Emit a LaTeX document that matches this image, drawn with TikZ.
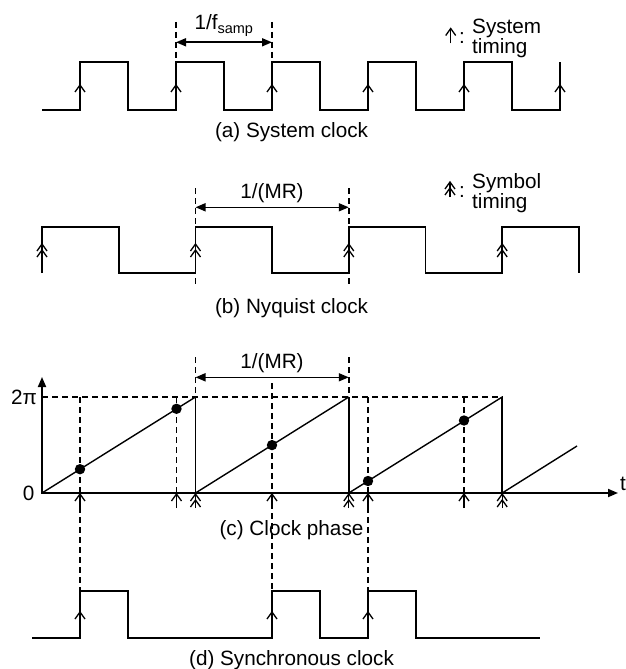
\documentclass[tikz,border=0pt]{standalone}
\usepackage{fontspec}
\setmainfont{Liberation Sans}
\usetikzlibrary{arrows.meta}
\newcommand\lblfont{\fontsize{20.7}{20.7}\selectfont}
\tikzset{
  wave/.style={line width=1.8pt, line join=miter},
  ramp/.style={line width=1.4pt},
  dsh/.style={line width=1.5pt, dash pattern=on 6pt off 4pt},
  chev/.style={line width=1.3pt, line join=miter},
  dimarrow/.style={line width=1.6pt, {Triangle[length=10pt,width=8pt]}-{Triangle[length=10pt,width=8pt]}},
  lbl/.style={font=\lblfont, inner sep=0pt},
  dotmark/.style={fill=black, draw=none},
  pics/sch/.style={code={\draw[chev] (-5,7) -- (0,0) -- (5,7);}},
  pics/dch/.style={code={\draw[chev] (-5,7) -- (0,0) -- (5,7); \draw[chev] (-5,13) -- (0,6) -- (5,13);}},
}
\begin{document}
\begin{tikzpicture}[x=1pt,y=-1pt]
\useasboundingbox (0,0) rectangle (626,669);

% ---------------- (a) System clock ----------------
\draw[wave] (42,110) -- (80,110) -- (80,62) -- (128,62) -- (128,110) -- (176,110) -- (176,62)
  -- (224,62) -- (224,110) -- (272,110) -- (272,62) -- (320,62) -- (320,110) -- (368,110)
  -- (368,62) -- (416,62) -- (416,110) -- (464,110) -- (464,62) -- (512,62) -- (512,110)
  -- (560,110) -- (560,62);
\foreach \x in {80,176,272,368,464,560} \pic at (\x,85) {sch};
\draw[dsh] (176,22) -- (176,62);
\draw[dsh] (272,22) -- (272,62);
\coordinate (a1) at (176,42.3);
\coordinate (a2) at (272,42.3);
\draw[dimarrow] (a1) -- (a2);
\node[lbl, anchor=base] (fsamp) at (224,30) {1/f\textsubscript{samp}};
% legend
\coordinate (la1) at (450.7,43.5);
\coordinate (la2) at (450.7,28.5);
\draw[chev] (la1) -- (la2);
\pic at (la2) {sch};
\node[lbl, anchor=base] (colA) at (462,43.5) {:};
\node[lbl, anchor=base west] (sysA) at (472,33.5) {System};
\node[lbl, anchor=base west] (timA) at (472,53.5) {timing};
\node[lbl, anchor=base] (capA) at (291.5,137) {(a) System clock};

% ---------------- (b) Nyquist clock ----------------
\draw[wave] (42,273) -- (42,227) -- (118.7,227) -- (118.7,273) -- (195.5,273) -- (195.5,227)
  -- (272.2,227) -- (272.2,273) -- (348.8,273) -- (348.8,227) -- (425.5,227) -- (425.5,273)
  -- (502.2,273) -- (502.2,227) -- (578.9,227) -- (578.9,273);
\foreach \x in {42,195.5,348.8,502.2} \pic at (\x,244) {dch};
\draw[dsh] (195.5,188) -- (195.5,286);
\draw[dsh] (348.8,188) -- (348.8,286);
\coordinate (b1) at (195.5,207.3);
\coordinate (b2) at (348.8,207.3);
\draw[dimarrow] (b1) -- (b2);
\node[lbl, anchor=base] (mrB) at (272,198) {1/(MR)};
% legend
\coordinate (lb1) at (450,197);
\coordinate (lb2) at (450,182);
\draw[chev] (lb1) -- (lb2);
\pic at (lb2) {dch};
\node[lbl, anchor=base] (colB) at (462,197.5) {:};
\node[lbl, anchor=base west] (symB) at (472,188) {Symbol};
\node[lbl, anchor=base west] (timB) at (472,208.5) {timing};
\node[lbl, anchor=base] (capB) at (291.5,313) {(b) Nyquist clock};

% ---------------- (c) Clock phase ----------------
\coordinate (O) at (42,493);
\coordinate (ytop) at (42,377);
\coordinate (xend) at (618,493);
% dashed guides
\draw[dsh] (42,397) -- (502.2,397);
\draw[dsh] (80,397) -- (80,591);
\draw[dsh] (176.5,397) -- (176.5,493);
\draw[dsh] (272,383) -- (272,591);
\draw[dsh] (368,397) -- (368,591);
\draw[dsh] (464,397) -- (464,493);
\draw[dsh] (195.5,357) -- (195.5,397);
\draw[dsh] (348.8,357) -- (348.8,397);
% axes
\draw[wave, {Triangle[length=10pt,width=8pt]}-{Triangle[length=10pt,width=8pt]}] (ytop) -- (O) -- (xend);
% sawtooth
\draw[ramp] (O) -- (195.5,397);
\draw[ramp] (195.5,493) -- (348.8,397);
\draw[ramp] (348.8,493) -- (502.2,397);
\draw[ramp] (502.2,493) -- (577,446);
\draw[wave] (195.5,397) -- (195.5,493);
\draw[wave] (348.8,397) -- (348.8,493);
\draw[wave] (502.2,397) -- (502.2,493);
% dots
\foreach \x/\y in {80/469.2,176.5/408.8,272/445.1,368/481,464/420.5}
  \fill[dotmark] (\x,\y) circle[radius=5.2pt];
% timing arrows below axis
\foreach \x in {80,176.5,272,368,464} {
  \draw[chev] (\x,508) -- (\x,493);
  \pic at (\x,494) {sch};
}
\foreach \x in {195.5,348.8,502.2} {
  \draw[chev] (\x,508) -- (\x,493);
  \pic at (\x,494) {dch};
}
\coordinate (c1) at (195.5,377.3);
\coordinate (c2) at (348.8,377.3);
\draw[dimarrow] (c1) -- (c2);
\node[lbl, anchor=base] (mrC) at (272,368) {1/(MR)};
\node[lbl] (twopi) at (24,397) {2π};
\node[lbl] (zero) at (28.7,493) {0};
\node[lbl, anchor=base west] (tlab) at (620,490) {t};
\node[lbl, anchor=base] (capC) at (291.5,535.5) {(c) Clock phase};

% ---------------- (d) Synchronous clock ----------------
\draw[wave] (32,638) -- (80,638) -- (80,591) -- (128,591) -- (128,638) -- (272,638) -- (272,591)
  -- (320,591) -- (320,638) -- (368,638) -- (368,591) -- (416,591) -- (416,638) -- (540,638);
\foreach \x in {80,272,368} \pic at (\x,612) {sch};
\node[lbl, anchor=base] (capD) at (291.5,665) {(d) Synchronous clock};
\end{tikzpicture}
\end{document}
